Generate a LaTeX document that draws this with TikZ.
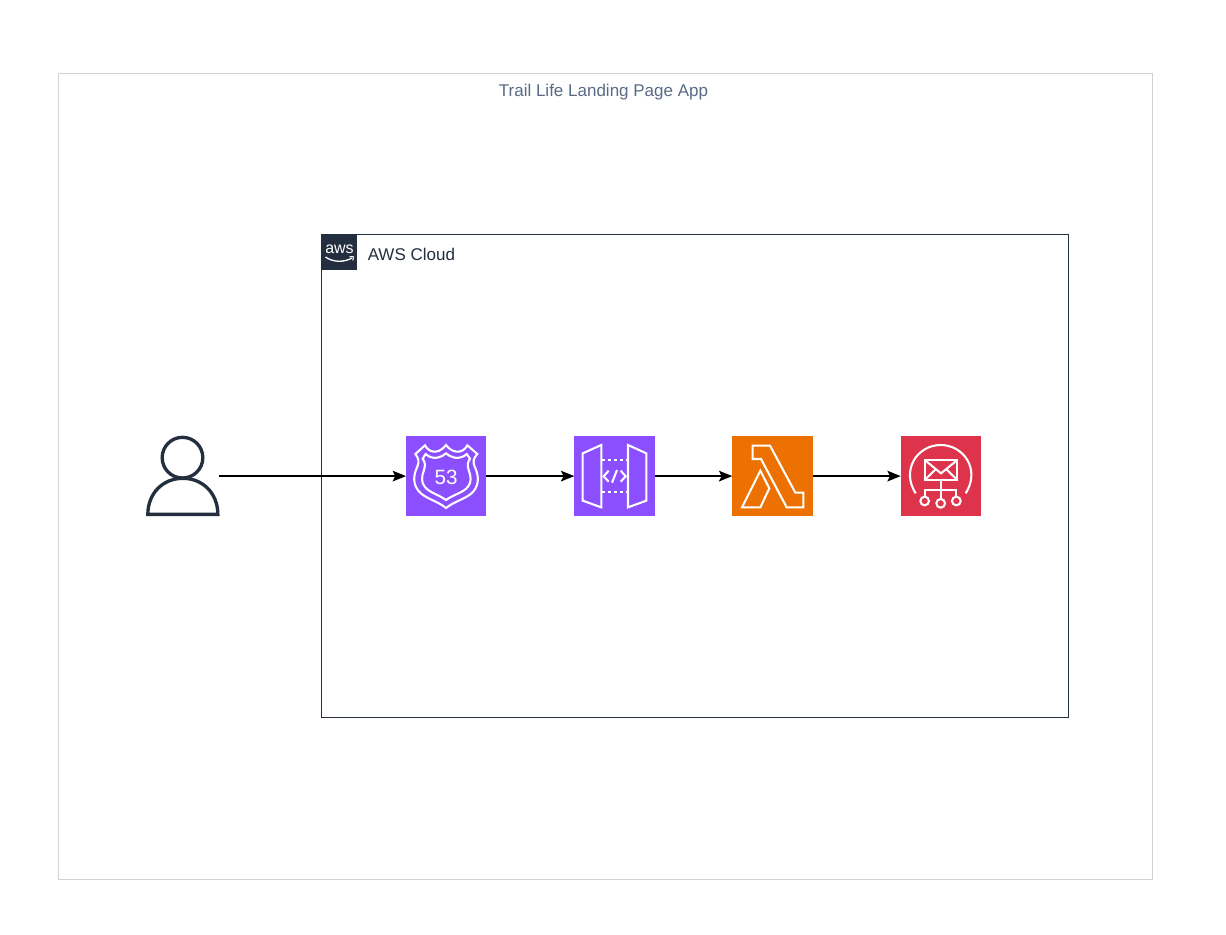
\documentclass[tikz,border=0pt]{standalone}
\usepackage{fontspec}
\setmainfont{Liberation Sans}
\usetikzlibrary{arrows.meta}
\definecolor{awsdark}{HTML}{232F3E}
\definecolor{outerline}{HTML}{CDD2D9}
\definecolor{titlecol}{HTML}{5A6B86}
\definecolor{netpurple}{HTML}{8C4FFF}
\definecolor{lamorange}{HTML}{ED7100}
\definecolor{sesred}{HTML}{DD344C}
\tikzset{
  iconbox/.style={draw=none,fill=#1,minimum width=60.2pt,minimum height=60.2pt,inner sep=0pt,outer sep=0pt},
  glyph/.style={draw=white,line width=1.55pt,line join=miter},
  flow/.style={draw=black,line width=0.95pt,-{Stealth[length=10pt,width=8pt,inset=2pt]}},
  personline/.style={draw=awsdark,line width=2.5pt},
}
\begin{document}
\begin{tikzpicture}[x=0.75pt,y=-0.75pt]
\useasboundingbox (0,0) rectangle (1226,934);
\fill[white] (0,0) rectangle (1226,934);
% outer group
\draw[outerline,line width=0.8pt] (58.5,73.5) rectangle (1152.5,879.5);
\node[text=titlecol,font=\fontsize{12.75pt}{15pt}\selectfont,inner sep=0pt] (title) at (603.5,92) {Trail Life Landing Page App};
% AWS cloud group
\draw[awsdark,line width=1.1pt] (321.5,234.5) rectangle (1068.7,717.7);
\node[fill=awsdark,minimum width=27pt,minimum height=27pt,inner sep=0pt,outer sep=0pt] (awslogo) at (339.25,252.25) {};
\node[text=white,font=\fontsize{12pt}{13pt}\selectfont,inner sep=0pt] (awstext) at (339.5,249) {aws};
\draw[white,line width=1pt] (325.5,257) .. controls (333,262.5) and (344,262.5) .. (352,258);
\draw[white,line width=0.75pt] (349.5,256.5) -- (353.5,256.8) -- (352.8,260.5);
\node[anchor=west,text=awsdark,font=\fontsize{12.75pt}{15pt}\selectfont,inner sep=0pt] (cloudlabel) at (367.5,254) {AWS Cloud};
% nodes
\node[minimum width=54pt,minimum height=60pt,inner sep=0pt,outer sep=0pt] (user) at (183,476.1) {};
\node[iconbox=netpurple] (r53) at (446.1,476.1) {};
\node[iconbox=netpurple] (api) at (614.4,476.1) {};
\node[iconbox=lamorange] (lam) at (772.4,476.1) {};
\node[iconbox=sesred] (ses) at (940.8,476.1) {};
% user glyph
\begin{scope}[shift={(134.5,425)},x=0.25pt,y=-0.25pt]
  \draw[personline] (144,98) circle[radius=15.25pt];
  \draw[personline,line cap=round] (40,268) -- (250,268) .. controls (250,205) and (205,160) .. (145,160) .. controls (85,160) and (40,205) .. (40,268) -- cycle;
\end{scope}
% route 53 glyph
\begin{scope}[shift={(400,430)},x=0.25pt,y=-0.25pt]
  \draw[glyph] (46,72) -- (75,46) .. controls (82,60) and (95,66) .. (107,65) .. controls (118,64) and (130,56) .. (138,45) .. controls (146,56) and (158,64) .. (170,65) .. controls (182,66) and (195,60) .. (202,46) -- (232,72) .. controls (220,85) and (218,95) .. (224,110) .. controls (236,135) and (238,160) .. (222,182) .. controls (205,205) and (165,212) .. (138,234) .. controls (112,212) and (72,205) .. (55,182) .. controls (38,160) and (40,135) .. (52,110) .. controls (58,95) and (56,85) .. (46,72) -- cycle;
  \draw[glyph] (68,86) -- (77,72) .. controls (88,82) and (100,85) .. (112,83) .. controls (122,81) and (132,76) .. (138,70) .. controls (144,76) and (154,81) .. (164,83) .. controls (176,85) and (190,82) .. (200,72) -- (210,86) .. controls (202,97) and (202,107) .. (206,120) .. controls (214,140) and (214,158) .. (204,170) .. controls (190,188) and (160,194) .. (138,210) .. controls (116,194) and (88,188) .. (74,170) .. controls (64,158) and (64,140) .. (72,120) .. controls (76,107) and (76,97) .. (68,86) -- cycle;
  \node[text=white,font=\fontsize{15.5pt}{16pt}\selectfont,inner sep=0pt] (r53num) at (138,141) {53};
\end{scope}
% api gateway glyph
\begin{scope}[shift={(568,430)},x=0.25pt,y=-0.25pt]
  \draw[glyph] (44,70) -- (100,45) -- (100,232) -- (44,212) -- cycle;
  \draw[glyph] (180,45) -- (235,70) -- (235,212) -- (180,232) -- cycle;
  \draw[glyph,dash pattern=on 2.6pt off 1.9pt] (102,91) -- (180,91);
  \draw[glyph,dash pattern=on 2.6pt off 1.9pt] (102,187) -- (180,187);
  \draw[glyph] (122,122) -- (107,139) -- (122,155);
  \draw[glyph] (158,122) -- (173,139) -- (158,155);
  \draw[glyph] (147,120) -- (132,158);
\end{scope}
% lambda glyph
\begin{scope}[shift={(726,430)},x=0.25pt,y=-0.25pt]
  \draw[glyph] (80,47) -- (132,47) -- (208,188) -- (232,188) -- (232,232) -- (182,232) -- (105,87) -- (80,87) -- cycle;
  \draw[glyph] (103,122) -- (130,175) -- (103,232) -- (48,232) -- cycle;
\end{scope}
% ses glyph
\begin{scope}[shift={(894,430)},x=0.25pt,y=-0.25pt]
  \draw[glyph] (65,190) .. controls (20,120) and (70,45) .. (140,45) .. controls (210,45) and (260,120) .. (215,190);
  \draw[glyph] (92,90) rectangle (190,150);
  \draw[glyph] (92,90) -- (141,130) -- (190,90);
  \draw[glyph] (92,150) -- (125,118);
  \draw[glyph] (190,150) -- (157,118);
  \draw[glyph] (140,150) -- (140,207);
  \draw[glyph] (92,200) -- (92,180) -- (187,180) -- (187,200);
  \draw[glyph] (92,213) circle[radius=3.25pt];
  \draw[glyph] (140,220) circle[radius=3.25pt];
  \draw[glyph] (187,213) circle[radius=3.25pt];
\end{scope}
% connectors
\draw[flow] (user.east) -- (r53.west);
\draw[flow] (r53.east) -- (api.west);
\draw[flow] (api.east) -- (lam.west);
\draw[flow] (lam.east) -- (ses.west);
\end{tikzpicture}
\end{document}
